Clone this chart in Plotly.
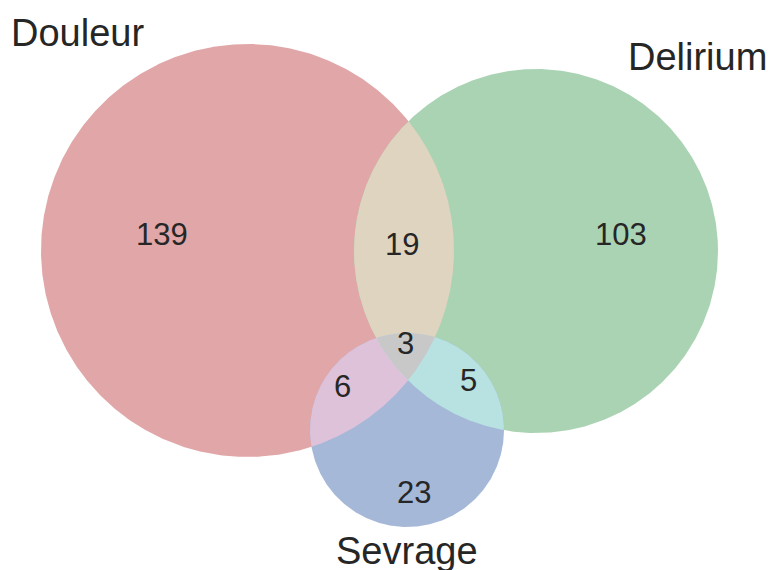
import numpy as np
import plotly.graph_objects as go

# ---- data ----
set_labels = ["Douleur", "Delirium", "Sevrage"]
# region keys: which sets a region belongs to (D, De, S)
region_keys = ["100", "010", "110", "001", "101", "011", "111"]
region_counts = [139, 103, 19, 23, 6, 5, 3]

# ---- layout / style (pixel space) ----
W, H = 768, 570
circles = [(247.5, 250.5, 206.5), (536.0, 251.0, 182.0), (407.0, 430.0, 97.0)]
base_colors = ["#e1a6a8", "#aad3b3", "#a5b8d7"]
overlap_colors = {"110": "#dfd4bf", "101": "#dec2da", "011": "#b8e1e1", "111": "#c8c8c8"}
label_pos = {"Douleur": (77, 33), "Delirium": (697, 57), "Sevrage": (407, 551)}
count_pos = {"100": (162, 234), "010": (621, 234), "110": (402, 244), "001": (414, 492),
             "101": (342, 386), "011": (468, 380), "111": (405, 343)}
text_color = "#262626"
font = "Liberation Sans, Arial, sans-serif"


def circle_pts(c, n=720):
    t = np.linspace(0, 2 * np.pi, n, endpoint=False)
    return c[0] + c[2] * np.cos(t), c[1] + c[2] * np.sin(t)


def inside(x, y, c, tol=1e-6):
    return (x - c[0]) ** 2 + (y - c[1]) ** 2 <= c[2] ** 2 * (1 + tol)


def intersection_poly(idx):
    xs, ys = [], []
    for i in idx:
        x, y = circle_pts(circles[i], 2000)
        m = np.ones_like(x, dtype=bool)
        for j in idx:
            if j != i:
                m &= inside(x, y, circles[j])
        xs.append(x[m]); ys.append(y[m])
    x = np.concatenate(xs); y = np.concatenate(ys)
    cx, cy = x.mean(), y.mean()
    order = np.argsort(np.arctan2(y - cy, x - cx))
    return x[order], y[order]


fig = go.Figure()

for c, col in zip(circles, base_colors):
    x, y = circle_pts(c)
    fig.add_trace(go.Scatter(x=np.append(x, x[0]), y=np.append(y, y[0]), fill="toself",
                             fillcolor=col, mode="lines", line=dict(width=0),
                             hoverinfo="skip", showlegend=False))

for key in ["110", "101", "011", "111"]:
    idx = [i for i, ch in enumerate(key) if ch == "1"]
    x, y = intersection_poly(idx)
    fig.add_trace(go.Scatter(x=np.append(x, x[0]), y=np.append(y, y[0]), fill="toself",
                             fillcolor=overlap_colors[key], mode="lines", line=dict(width=0),
                             hoverinfo="skip", showlegend=False))

for key, cnt in zip(region_keys, region_counts):
    px, py = count_pos[key]
    fig.add_annotation(x=px, y=py, text=str(cnt), showarrow=False,
                       font=dict(size=31, color=text_color, family=font),
                       xanchor="center", yanchor="middle")

for lab in set_labels:
    px, py = label_pos[lab]
    fig.add_annotation(x=px, y=py, text=lab, showarrow=False,
                       font=dict(size=38, color=text_color, family=font),
                       xanchor="center", yanchor="middle")

fig.update_layout(width=W, height=H, margin=dict(l=0, r=0, t=0, b=0),
                  paper_bgcolor="white", plot_bgcolor="white",
                  xaxis=dict(range=[0, W], visible=False, fixedrange=True),
                  yaxis=dict(range=[H, 0], visible=False, fixedrange=True))

fig.write_html("out.html", config={"displayModeBar": False},
               post_script="document.body.style.margin='0';document.body.style.overflow='hidden';")
